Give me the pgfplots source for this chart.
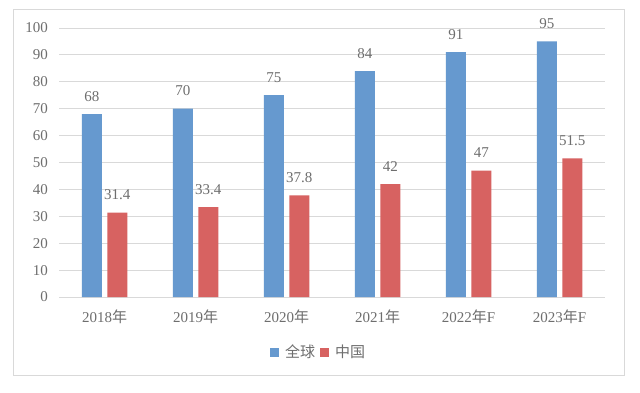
\documentclass[border=0pt]{standalone}
\usepackage{fontspec}
\setmainfont{Liberation Serif}
\newfontfamily\cjk{Noto Sans CJK SC}
\usepackage{pgfplots}
\pgfplotsset{compat=1.18}
\definecolor{cblue}{HTML}{6699CF}
\definecolor{cred}{HTML}{D76261}
\definecolor{tgray}{HTML}{6E6E6E}
\definecolor{ggray}{HTML}{D9D9D9}
\begin{document}
\begin{tikzpicture}[x=1bp,y=1bp]
\path[fill=white] (0,0) rectangle (640,392);
\draw[color=ggray, line width=0.8bp] (13,17) rectangle (624,383);
\begin{axis}[
  at={(59bp,95bp)}, anchor=south west,
  scale only axis, width=546bp, height=269bp,
  xmin=-0.5, xmax=5.5, ymin=0, ymax=100,
  ytick distance=10,
  xtick={0,1,2,3,4,5},
  xticklabels={2018{\cjk 年},2019{\cjk 年},2020{\cjk 年},2021{\cjk 年},2022{\cjk 年}F,2023{\cjk 年}F},
  axis line style={draw=none},
  major tick length=0pt,
  ymajorgrids, grid style={color=ggray, line width=0.8bp},
  /pgf/number format/assume math mode=true,
  tick label style={font=\fontsize{15bp}{18bp}\selectfont, text=tgray},
  yticklabel style={anchor=east, inner sep=0pt, xshift=-11bp},
  xticklabel style={anchor=base, inner sep=0pt, yshift=-25bp},
  clip=false,
  ybar, bar width=20bp,
  nodes near coords,
  nodes near coords style={font=\fontsize{15bp}{18bp}\selectfont, text=tgray, anchor=base, inner sep=0pt, yshift=13bp},
  legend columns=2,
  legend style={draw=none, fill=none, at={(0.4735,-0.2045)}, anchor=center,
    font=\fontsize{15bp}{18bp}\selectfont\cjk, text=tgray,
    nodes={inner sep=0pt},
    /tikz/every odd column/.append style={column sep=6bp},
    /tikz/every even column/.append style={column sep=5bp},
    inner sep=0pt},
  legend image code/.code={\path[#1] (0bp,-4.5bp) rectangle (9bp,4.5bp);},
]
\addplot[fill=cblue, draw=none, bar shift=-12.75bp,
  point meta=explicit symbolic] coordinates {(0,68)[68] (1,70)[70] (2,75)[75] (3,84)[84] (4,91)[91] (5,95)[95]};
\addplot[fill=cred, draw=none, bar shift=12.75bp,
  point meta=explicit symbolic] coordinates {(0,31.4)[31.4] (1,33.4)[33.4] (2,37.8)[37.8] (3,42)[42] (4,47)[47] (5,51.5)[51.5]};
\legend{全球,中国}
\end{axis}
\end{tikzpicture}
\end{document}
